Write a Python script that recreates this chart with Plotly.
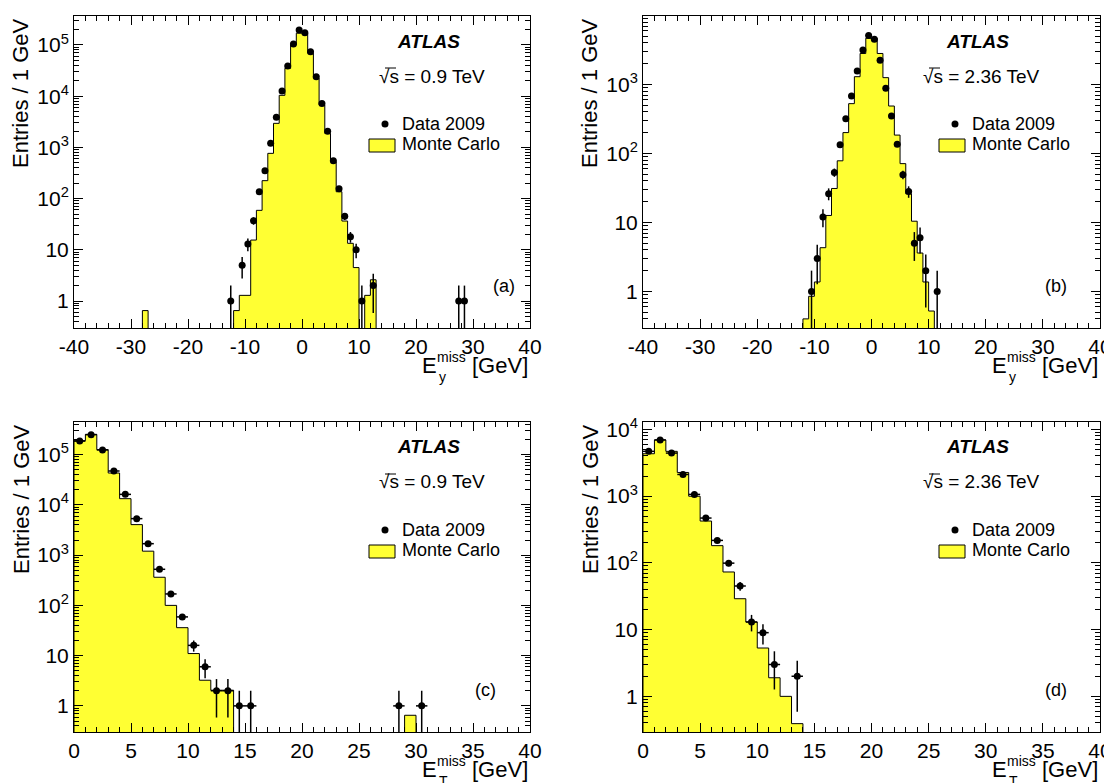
import numpy as np
import plotly.graph_objects as go

W, H = 1104, 775
OFF = 8  # the page body offsets the figure by 8 px
FONT = "Liberation Sans"
YELLOW = "#ffff33"
FLOOR = 1e-3  # empty bins are drawn below the axis range

# (a) E_y^miss, sqrt(s) = 0.9 TeV
ey09_x = [-12.5, -10.5, -9.5, -8.5, -7.5, -6.5, -5.5, -4.5, -3.5, -2.5, -1.5, -0.5,
          0.5, 1.5, 2.5, 3.5, 4.5, 5.5, 6.5, 7.5, 8.5, 9.5, 10.5, 12.5, 27.5, 28.5]
ey09_n = [1, 5, 13, 37, 136, 350, 1200, 3900, 12600, 39000, 105000, 196000,
          174000, 74000, 24000, 7200, 2060, 550, 155, 45, 18, 10, 1, 2, 1, 1]
ey09_mc_lo = -28
ey09_mc = [0.65] + [0] * 15 + [
    0.65, 1.29, 1.29, 15.5, 59, 224, 765, 2950, 10400, 35000, 100000, 170000,
    170000, 69000, 22400, 6700, 1880, 525, 136, 36.5, 13.4, 4.5, 0, 1.29, 2.6]

# (b) E_y^miss, sqrt(s) = 2.36 TeV
ey236_x = [-10.5, -9.5, -8.5, -7.5, -6.5, -5.5, -4.5, -3.5, -2.5, -1.5, -0.5,
           0.5, 1.5, 2.5, 3.5, 4.5, 5.5, 6.5, 7.5, 8.5, 9.5, 11.5]
ey236_n = [1, 3, 12, 26, 53, 133, 317, 680, 1560, 3150, 5100,
           4500, 2230, 875, 347, 136, 49, 28, 5, 6, 2, 1]
ey236_mc_lo = -12
ey236_mc = [0.4, 0.85, 1.37, 4.3, 12.6, 31, 78, 200, 525, 1290, 2800, 4650,
            4650, 2800, 1250, 485, 184, 71, 26, 10.4, 3.6, 1.37, 0.52]

# (c) E_T^miss, sqrt(s) = 0.9 TeV
et09_x = [0.5, 1.5, 2.5, 3.5, 4.5, 5.5, 6.5, 7.5, 8.5, 9.5, 10.5, 11.5,
          12.5, 13.5, 14.5, 15.5, 28.5, 30.5]
et09_n = [186000, 250000, 124000, 47300, 16200, 5330, 1690, 523, 169, 59, 16, 6,
          2, 2, 1, 1, 1, 1]
et09_mc_lo = 0
et09_mc = [190000, 253000, 126000, 43100, 13300, 4050, 1200, 363, 100, 36, 11, 3.24,
           2.05, 2.05] + [0] * 15 + [0.65]

# (d) E_T^miss, sqrt(s) = 2.36 TeV
et236_x = [0.5, 1.5, 2.5, 3.5, 4.5, 5.5, 6.5, 7.5, 8.5, 9.5, 10.5, 11.5, 13.5]
et236_n = [4680, 6940, 4410, 2110, 1060, 469, 217, 99, 45, 13, 9, 3, 2]
et236_mc_lo = 0
et236_mc = [4310, 6940, 4680, 2260, 995, 423, 181, 73, 29, 13, 5.3, 1.9, 1.0, 0.39]

ey_ticks = [-40, -30, -20, -10, 0, 10, 20, 30, 40]
et_ticks = [0, 5, 10, 15, 20, 25, 30, 35, 40]
y_ticks = [1, 10, 100, 1000, 1e4, 1e5]
y_ticktext = ["1", "10", "10<sup>2</sup>", "10<sup>3</sup>", "10<sup>4</sup>", "10<sup>5</sup>"]
y_minor = [k * 10 ** d for d in range(-1, 6) for k in range(2, 10)]

panels = [
    dict(tag="(a)", energy="0.9", sub="y", box=(74, 530, 16, 328), yr=[-0.527, 5.566],
         x=ey09_x, n=ey09_n, lo=ey09_mc_lo, mc=ey09_mc, xt=ey_ticks, minor=2, tagx=504),
    dict(tag="(b)", energy="2.36", sub="y", box=(643, 1100, 16, 328), yr=[-0.53, 3.99],
         x=ey236_x, n=ey236_n, lo=ey236_mc_lo, mc=ey236_mc, xt=ey_ticks, minor=2, tagx=1056),
    dict(tag="(c)", energy="0.9", sub="T", box=(74, 530, 422, 732), yr=[-0.52, 5.65],
         x=et09_x, n=et09_n, lo=et09_mc_lo, mc=et09_mc, xt=et_ticks, minor=1, tagx=485),
    dict(tag="(d)", energy="2.36", sub="T", box=(643, 1100, 422, 732), yr=[-0.534, 4.11],
         x=et236_x, n=et236_n, lo=et236_mc_lo, mc=et236_mc, xt=et_ticks, minor=1, tagx=1056),
]


def fx(px):
    return (px - OFF) / W


def fy(py):
    return 1 - (py - OFF) / H


fig = go.Figure()
annotations = []
shapes = []
layout = {}


def text(x, y, s, size, xanchor="center", yanchor="middle", angle=0):
    annotations.append(dict(x=fx(x), y=fy(y), xref="paper", yref="paper", text=s,
                            showarrow=False, xanchor=xanchor, yanchor=yanchor, borderpad=0,
                            textangle=angle, font=dict(family=FONT, size=size, color="black")))


for i, p in enumerate(panels):
    sfx = "" if i == 0 else str(i + 1)
    xa, ya = "x" + sfx, "y" + sfx
    x0, x1, y0, y1 = p["box"]

    lo, vals = p["lo"], p["mc"]
    xs = [lo] + [lo + k for k in range(len(vals))] + [lo + len(vals)]
    ys = [FLOOR] + [v if v > 0 else FLOOR for v in vals] + [FLOOR]
    fig.add_trace(go.Scatter(x=xs, y=ys, mode="lines", fill="toself", fillcolor=YELLOW,
                             line=dict(shape="hv", color="black", width=1),
                             xaxis=xa, yaxis=ya, showlegend=False, hoverinfo="skip"))

    n = np.array(p["n"], dtype=float)
    err = np.sqrt(n)
    fig.add_trace(go.Scatter(
        x=p["x"], y=n, mode="markers", marker=dict(color="black", size=7),
        error_y=dict(type="data", array=err, arrayminus=np.minimum(err, n * 0.999),
                     color="black", thickness=1.5, width=0),
        error_x=dict(type="constant", value=0.5, color="black", thickness=1.5, width=0),
        xaxis=xa, yaxis=ya, showlegend=False))

    common = dict(ticks="inside", ticklen=9, tickwidth=1, tickcolor="black",
                  showline=True, linecolor="black", linewidth=1, mirror="allticks",
                  showgrid=False, zeroline=False, automargin=False,
                  ticklabeloverflow="allow",
                  tickfont=dict(family=FONT, size=21, color="black"))
    layout["xaxis" + sfx] = dict(
        domain=[fx(x0), fx(x1)], anchor=ya, range=[p["xt"][0], p["xt"][-1]],
        tickmode="array", tickvals=p["xt"], ticktext=[str(v) for v in p["xt"]],
        minor=dict(ticks="inside", ticklen=5, tickcolor="black", tick0=0, dtick=p["minor"],
                   showgrid=False),
        **common)
    layout["yaxis" + sfx] = dict(
        domain=[fy(y1), fy(y0)], anchor=xa, type="log", range=p["yr"],
        tickmode="array", tickvals=y_ticks, ticktext=y_ticktext,
        minor=dict(ticks="inside", ticklen=5, tickcolor="black", tickmode="array",
                   tickvals=y_minor, showgrid=False),
        **common)

    # axis titles
    text(x0 - 53, y0 + 1, "Entries / 1 GeV", 22, yanchor="top", angle=-90)
    text(x1 - 1, y1 + 37, "[GeV]", 22, xanchor="right")
    text(x1 - 92, y1 + 37, "E", 22, xanchor="right")
    text(x1 - 94, y1 + 29, "miss", 14, xanchor="left")
    text(x1 - 92, y1 + 49, p["sub"], 14, xanchor="left")

    # labels inside the frame
    right_col = i % 2 == 1
    cx = x1 - 123 if right_col else x1 - 102
    sx = x1 - 178 if right_col else x1 - 152
    text(cx, y0 + 25, "<b><i>ATLAS</i></b>", 19)
    text(sx, y0 + 60, "\u221as = " + p["energy"] + " TeV", 19, xanchor="left")
    shapes.append(dict(type="line", xref="paper", yref="paper",
                       x0=fx(sx + 7), x1=fx(sx + 18), y0=fy(y0 + 52), y1=fy(y0 + 52),
                       line=dict(color="black", width=1)))
    text(p["tagx"], y1 - 42, p["tag"], 18)

    lx = x1 - 159
    shapes.append(dict(type="circle", xref="paper", yref="paper",
                       x0=fx(lx + 10.5), x1=fx(lx + 17.5), y0=fy(y0 + 104.5), y1=fy(y0 + 111.5),
                       fillcolor="black", line=dict(color="black", width=0)))
    shapes.append(dict(type="rect", xref="paper", yref="paper",
                       x0=fx(lx - 2), x1=fx(lx + 24), y0=fy(y0 + 136), y1=fy(y0 + 123),
                       fillcolor=YELLOW, line=dict(color="black", width=1)))
    text(lx + 30, y0 + 108, "Data 2009", 18, xanchor="left")
    text(lx + 30, y0 + 128, "Monte Carlo", 18, xanchor="left")

fig.update_layout(
    width=W, height=H, margin=dict(l=0, r=0, t=0, b=0, autoexpand=False),
    paper_bgcolor="white", plot_bgcolor="white",
    font=dict(family=FONT, color="black"),
    annotations=annotations, shapes=shapes, **layout)

fig.write_html("out.html")
